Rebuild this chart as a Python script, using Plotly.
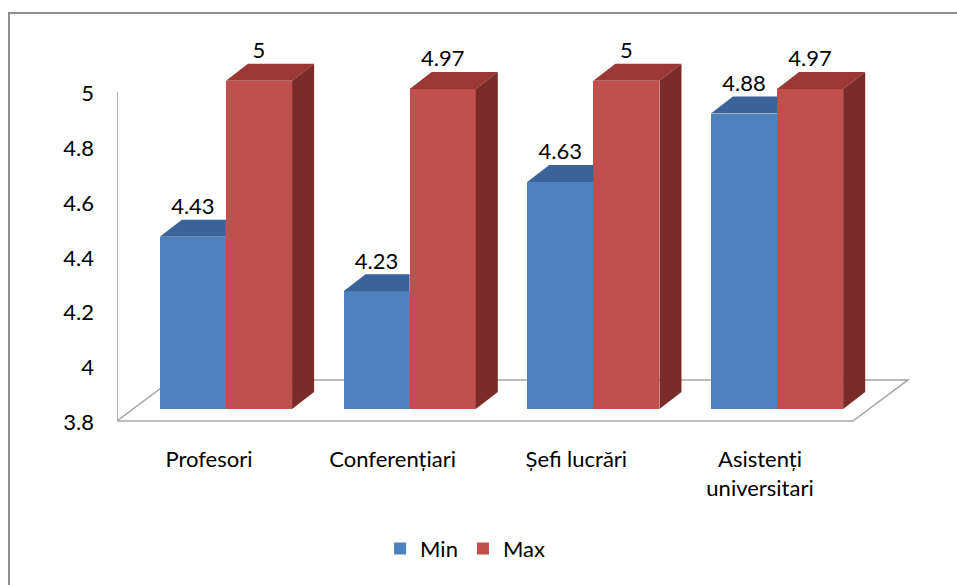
import plotly.graph_objects as go

# ---- data ----
categories = ["Profesori", "Conferențiari", "Șefi lucrări", "Asistenți<br>universitari"]
min_values = [4.43, 4.23, 4.63, 4.88]
max_values = [5.00, 4.97, 5.00, 4.97]
label_min = ["4.43", "4.23", "4.63", "4.88"]
label_max = ["5", "4.97", "5", "4.97"]
y_ticks = [3.8, 4.0, 4.2, 4.4, 4.6, 4.8, 5.0]
y_tick_text = ["3.8", "4", "4.2", "4.4", "4.6", "4.8", "5"]

# ---- style / geometry ----
BASE = 3.8
BAR_W = 0.36          # bar width in category units
DX, DY = 0.12, 0.062  # 3D depth offset (x units, y units)
FONT = "Lato"
FS = 22
C_MIN_FRONT, C_MIN_TOP = "#4F81BD", "#3A6498"
C_MAX_FRONT, C_MAX_TOP, C_MAX_SIDE = "#C0504D", "#9A3835", "#7B2C2A"

pos = list(range(len(categories)))
x_min = [p - BAR_W / 2 for p in pos]
x_max = [p + BAR_W / 2 for p in pos]

def top_faces(xc, vals, clip_right):
    xs, ys = [], []
    for c, v in zip(xc, vals):
        x0, x1 = c - BAR_W / 2, c + BAR_W / 2
        if clip_right:
            xs += [x0, x1, x1, x0 + DX, x0, None]
        else:
            xs += [x0, x1, x1 + DX, x0 + DX, x0, None]
        ys += [v, v, v + DY, v + DY, v, None]
    return xs, ys

def side_faces(xc, vals):
    xs, ys = [], []
    for c, v in zip(xc, vals):
        x1 = c + BAR_W / 2
        xs += [x1, x1, x1 + DX, x1 + DX, x1, None]
        ys += [BASE, v, v + DY, BASE + DY, BASE, None]
    return xs, ys

fig = go.Figure()

# front faces (bars)
fig.add_trace(go.Bar(x=x_min, y=[v - BASE for v in min_values], base=BASE, width=BAR_W,
                     name="Min", marker=dict(color=C_MIN_FRONT, line=dict(width=0)),
                     hoverinfo="skip"))
fig.add_trace(go.Bar(x=x_max, y=[v - BASE for v in max_values], base=BASE, width=BAR_W,
                     name="Max", marker=dict(color=C_MAX_FRONT, line=dict(width=0)),
                     hoverinfo="skip"))

# 3D faces
tx, ty = top_faces(x_min, min_values, clip_right=True)
fig.add_trace(go.Scatter(x=tx, y=ty, mode="lines", fill="toself", fillcolor=C_MIN_TOP,
                         line=dict(width=0, color=C_MIN_TOP), showlegend=False, hoverinfo="skip"))
tx, ty = top_faces(x_max, max_values, clip_right=False)
fig.add_trace(go.Scatter(x=tx, y=ty, mode="lines", fill="toself", fillcolor=C_MAX_TOP,
                         line=dict(width=0, color=C_MAX_TOP), showlegend=False, hoverinfo="skip"))
sx, sy = side_faces(x_max, max_values)
fig.add_trace(go.Scatter(x=sx, y=sy, mode="lines", fill="toself", fillcolor=C_MAX_SIDE,
                         line=dict(width=0, color=C_MAX_SIDE), showlegend=False, hoverinfo="skip"))

# data labels
fig.add_trace(go.Scatter(x=x_min, y=[v + DY for v in min_values], mode="text", text=label_min,
                         textposition="top center", textfont=dict(family=FONT, size=FS, color="#000"),
                         showlegend=False, hoverinfo="skip", cliponaxis=False))
fig.add_trace(go.Scatter(x=x_max, y=[v + DY for v in max_values], mode="text", text=label_max,
                         textposition="top center", textfont=dict(family=FONT, size=FS, color="#000"),
                         showlegend=False, hoverinfo="skip", cliponaxis=False))

# floor & wall (decoration)
floor_col = "#A6A6A6"
fig.add_shape(type="path", xref="x", yref="y", layer="below",
              path="M -0.593 3.756 L 3.413 3.756 L 3.713 3.906 L -0.294 3.906 Z",
              line=dict(color=floor_col, width=1.5), fillcolor="white")
fig.add_shape(type="line", xref="x", yref="y", layer="below",
              x0=-0.593, x1=-0.593, y0=3.756, y1=4.96, line=dict(color=floor_col, width=1.5))
# outer chart border
fig.add_shape(type="rect", xref="paper", yref="paper", x0=-0.135, x1=1.08, y0=-0.45, y1=1.0327,
              line=dict(color="#8E8E8E", width=2), fillcolor="rgba(0,0,0,0)")

fig.update_layout(
    width=957, height=585,
    margin=dict(l=117, r=40, t=26, b=161),
    paper_bgcolor="white", plot_bgcolor="white",
    barmode="overlay", bargap=0,
    font=dict(family=FONT, size=FS, color="#000"),
    showlegend=True,
    legend=dict(orientation="h", xref="container", yref="container",
                x=0.486, xanchor="center", y=0.062, yanchor="middle",
                font=dict(family=FONT, size=FS), itemwidth=30, bgcolor="rgba(0,0,0,0)"),
    xaxis=dict(range=[-0.593, 3.762], tickvals=pos, ticktext=categories,
               showgrid=False, zeroline=False, showline=False, ticks="",
               ticklabelshift=-17, ticklabelstandoff=20, fixedrange=True),
    yaxis=dict(range=[3.745, 5.2], tickvals=y_ticks, ticktext=y_tick_text,
               showgrid=False, zeroline=False, showline=False, ticks="",
               ticklabelshift=13, ticklabelstandoff=22, fixedrange=True),
)

fig.write_html("out.html", config={"displayModeBar": False},
               post_script="document.body.style.margin='0px';")
